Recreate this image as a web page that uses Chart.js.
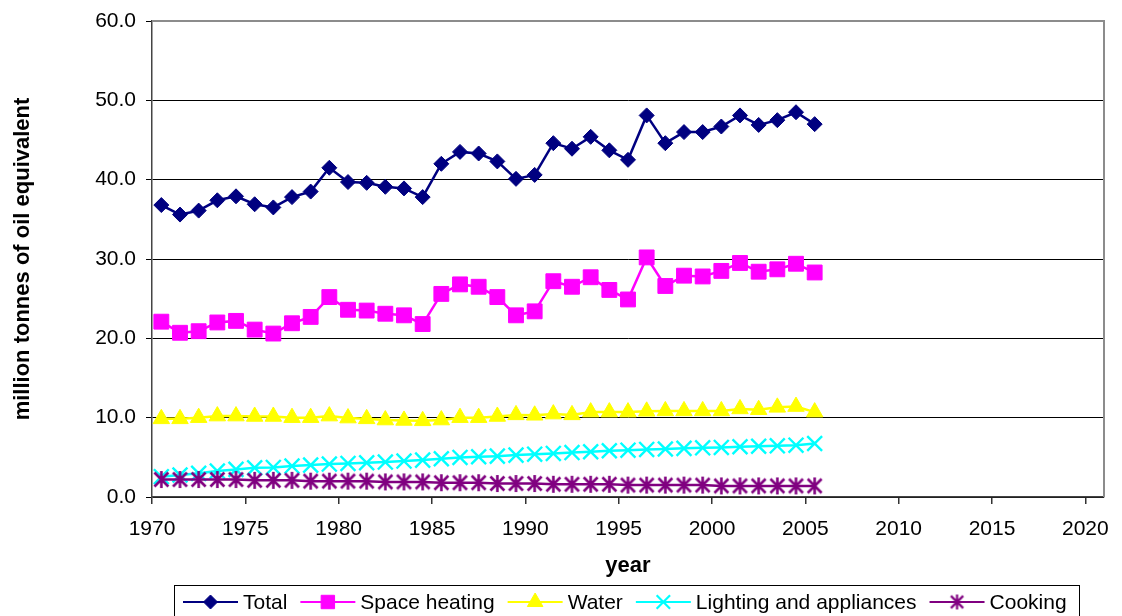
<!DOCTYPE html>
<html>
<head>
<meta charset="utf-8">
<script src="https://cdn.jsdelivr.net/npm/chart.js@4/dist/chart.umd.min.js"></script>
<style>
  html, body { margin: 0; padding: 0; background: #fff; }
  #wrap { width: 1122px; height: 616px; position: relative; }
</style>
</head>
<body>
<div id="wrap"><canvas id="c" width="1122" height="616"></canvas></div>
<script>
// Household energy use by end use, million tonnes of oil equivalent
const years = [1970, 1971, 1972, 1973, 1974, 1975, 1976, 1977, 1978, 1979,
               1980, 1981, 1982, 1983, 1984, 1985, 1986, 1987, 1988, 1989,
               1990, 1991, 1992, 1993, 1994, 1995, 1996, 1997, 1998, 1999,
               2000, 2001, 2002, 2003, 2004, 2005];

const total = [36.8, 35.6, 36.1, 37.4, 37.9, 36.9, 36.5, 37.8, 38.5, 41.5,
               39.7, 39.6, 39.1, 38.9, 37.8, 42.0, 43.5, 43.3, 42.3, 40.1,
               40.6, 44.6, 43.9, 45.4, 43.7, 42.5, 48.1, 44.6, 46.0, 46.0,
               46.7, 48.1, 46.9, 47.5, 48.5, 47.0];

const spaceHeating = [22.1, 20.7, 20.9, 22.0, 22.2, 21.1, 20.6, 21.9, 22.7, 25.2,
                      23.6, 23.5, 23.1, 22.9, 21.8, 25.6, 26.8, 26.5, 25.2, 22.9,
                      23.4, 27.2, 26.5, 27.7, 26.1, 24.9, 30.2, 26.6, 27.9, 27.8,
                      28.5, 29.5, 28.4, 28.7, 29.4, 28.3];

const water = [9.85, 9.85, 10.0, 10.2, 10.2, 10.15, 10.15, 10.0, 10.0, 10.2,
               9.95, 9.85, 9.7, 9.65, 9.6, 9.7, 10.0, 10.0, 10.15, 10.35,
               10.3, 10.45, 10.35, 10.7, 10.7, 10.7, 10.8, 10.85, 10.85, 10.85,
               10.85, 11.1, 11.0, 11.3, 11.4, 10.7];

const lighting = [2.56, 2.77, 2.98, 3.27, 3.48, 3.69, 3.73, 3.90, 4.02, 4.15,
                  4.23, 4.32, 4.40, 4.53, 4.65, 4.82, 4.99, 5.07, 5.15, 5.28,
                  5.40, 5.49, 5.60, 5.70, 5.83, 5.90, 6.00, 6.05, 6.13, 6.20,
                  6.25, 6.33, 6.40, 6.45, 6.53, 6.74];

const cooking = [2.2, 2.2, 2.2, 2.2, 2.2, 2.1, 2.1, 2.1, 2.0, 2.0,
                 2.0, 2.0, 1.9, 1.9, 1.9, 1.8, 1.8, 1.8, 1.7, 1.7,
                 1.7, 1.6, 1.6, 1.6, 1.6, 1.5, 1.5, 1.5, 1.5, 1.5,
                 1.4, 1.4, 1.4, 1.4, 1.4, 1.4];

const seriesNames = ['Total', 'Space heating', 'Water', 'Lighting and appliances', 'Cooking'];
const xTickValues = [1970, 1975, 1980, 1985, 1990, 1995, 2000, 2005, 2010, 2015, 2020];
const yTickStep = 10;

const FONT = '"Liberation Sans", Arial, sans-serif';

// six-armed asterisk marker (vertical bar plus an X)
function makeAsterisk(color, size, lw) {
  const c = document.createElement('canvas');
  c.width = size; c.height = size;
  const g = c.getContext('2d');
  g.strokeStyle = color; g.lineWidth = lw; g.lineCap = 'butt';
  const m = size / 2, r = size / 2 - 1;
  const d = r * 0.82;
  g.beginPath();
  g.moveTo(m, m - r); g.lineTo(m, m + r);
  g.moveTo(m - d, m - d); g.lineTo(m + d, m + d);
  g.moveTo(m + d, m - d); g.lineTo(m - d, m + d);
  g.stroke();
  return c;
}
const asterisk = makeAsterisk('#800080', 19, 2.6);
const asteriskSmall = makeAsterisk('#800080', 17, 2.2);

// points are plotted at mid-year
const toPoints = arr => arr.map((v, i) => ({ x: years[i] + 0.5, y: v }));

const datasets = [
  { label: seriesNames[0], data: toPoints(total), borderColor: '#000080', backgroundColor: '#000080',
    pointStyle: 'rectRot', pointRadius: 7.5, pointBorderWidth: 1, order: 4,
    legendStyle: 'rectRot', legendRadius: 7 },
  { label: seriesNames[1], data: toPoints(spaceHeating), borderColor: '#FF00FF', backgroundColor: '#FF00FF',
    pointStyle: 'rect', pointRadius: 10.5, pointBorderWidth: 1, order: 3,
    legendStyle: 'rect', legendRadius: 9.5 },
  { label: seriesNames[2], data: toPoints(water), borderColor: '#FFFF00', backgroundColor: '#FFFF00',
    pointStyle: 'triangle', pointRadius: 9.5, pointBorderWidth: 1, order: 2,
    legendStyle: 'triangle', legendRadius: 9 },
  { label: seriesNames[3], data: toPoints(lighting), borderColor: '#00FFFF', backgroundColor: '#00FFFF',
    pointStyle: 'crossRot', pointRadius: 10.5, pointBorderWidth: 2.4, order: 1,
    legendStyle: 'crossRot', legendRadius: 9.5 },
  { label: seriesNames[4], data: toPoints(cooking), borderColor: '#800080', backgroundColor: '#800080',
    pointStyle: asterisk, pointRadius: 9, pointBorderWidth: 1, order: 0,
    legendStyle: asteriskSmall, legendRadius: 8 }
];
datasets.forEach(d => {
  d.borderWidth = 2.5;
  d.tension = 0;
  d.pointBackgroundColor = d.backgroundColor;
  d.pointBorderColor = d.borderColor;
  d.pointHoverRadius = d.pointRadius;
});

// grey frame along the top and right of the plot area, over the gridlines
const frame = {
  id: 'frame',
  beforeDatasetsDraw(chart) {
    const { ctx, chartArea: a } = chart;
    ctx.save();
    ctx.strokeStyle = '#8c8c8c';
    ctx.lineWidth = 2;
    ctx.beginPath();
    ctx.moveTo(a.left, a.top);
    ctx.lineTo(a.right, a.top);
    ctx.lineTo(a.right, a.bottom);
    ctx.stroke();
    ctx.restore();
  }
};

// boxed legend under the axis title: line + marker + label for each series
const boxLegend = {
  id: 'boxLegend',
  afterDraw(chart) {
    const ctx = chart.ctx;
    const top = 585, cy = 602;
    ctx.save();
    ctx.strokeStyle = '#000';
    ctx.lineWidth = 1;
    ctx.strokeRect(174.5, top + 0.5, 905, 60);
    ctx.font = '21px ' + FONT;
    ctx.textBaseline = 'middle';
    ctx.textAlign = 'left';
    let x = 183;
    chart.data.datasets.forEach(ds => {
      ctx.strokeStyle = ds.borderColor;
      ctx.lineWidth = 2;
      ctx.beginPath();
      ctx.moveTo(x, cy);
      ctx.lineTo(x + 55, cy);
      ctx.stroke();
      // drawPoint paints with the context's current fill and stroke
      ctx.fillStyle = ds.backgroundColor;
      ctx.strokeStyle = ds.borderColor;
      ctx.lineWidth = ds.pointStyle === 'crossRot' ? 2.2 : 1;
      Chart.helpers.drawPoint(ctx, {
        pointStyle: ds.legendStyle, radius: ds.legendRadius, rotation: 0,
        borderWidth: ctx.lineWidth
      }, x + 27.5, cy);
      ctx.fillStyle = '#000';
      ctx.fillText(ds.label, x + 60, cy + 1);
      x += 60 + ctx.measureText(ds.label).width + 13;
    });
    ctx.restore();
  }
};

new Chart(document.getElementById('c'), {
  type: 'line',
  data: { datasets },
  plugins: [frame, boxLegend],
  options: {
    responsive: false,
    animation: false,
    events: [],
    layout: { padding: { left: 0, top: 21, right: 18, bottom: 37 } },
    plugins: { legend: { display: false }, tooltip: { enabled: false } },
    scales: {
      x: {
        type: 'linear',
        min: 1970,
        max: 2021,
        afterBuildTicks(scale) {
          scale.ticks = xTickValues.map(v => ({ value: v }));
        },
        afterFit(scale) {
          scale.height = 82;
          scale.paddingLeft = 0;
          scale.paddingRight = 0;
        },
        ticks: {
          color: '#000',
          font: { family: FONT, size: 21 },
          padding: 13,
          maxRotation: 0,
          autoSkip: false,
          callback: v => String(v)
        },
        grid: { drawOnChartArea: false, drawTicks: true, tickLength: 7, color: '#333', lineWidth: 1.5 },
        border: { display: true, color: '#444', width: 1.5 },
        title: {
          display: true, text: 'year', color: '#000',
          font: { family: FONT, size: 22, weight: 'bold' },
          padding: { top: 0, bottom: 0 }
        }
      },
      y: {
        min: 0,
        max: 60,
        afterFit(scale) {
          scale.width = 152;
          scale.paddingTop = 0;
          scale.paddingBottom = 0;
        },
        ticks: {
          stepSize: yTickStep,
          color: '#000',
          font: { family: FONT, size: 21 },
          padding: 10,
          callback: v => Number(v).toFixed(1)
        },
        grid: { color: '#000', lineWidth: 1, tickLength: 6, drawTicks: true },
        border: { display: true, color: '#444', width: 1.5 },
        title: {
          display: true, text: 'million tonnes of oil equivalent', color: '#000',
          font: { family: FONT, size: 22, weight: 'bold' },
          padding: { top: 10, bottom: 0 }
        }
      }
    }
  }
});
</script>
</body>
</html>
